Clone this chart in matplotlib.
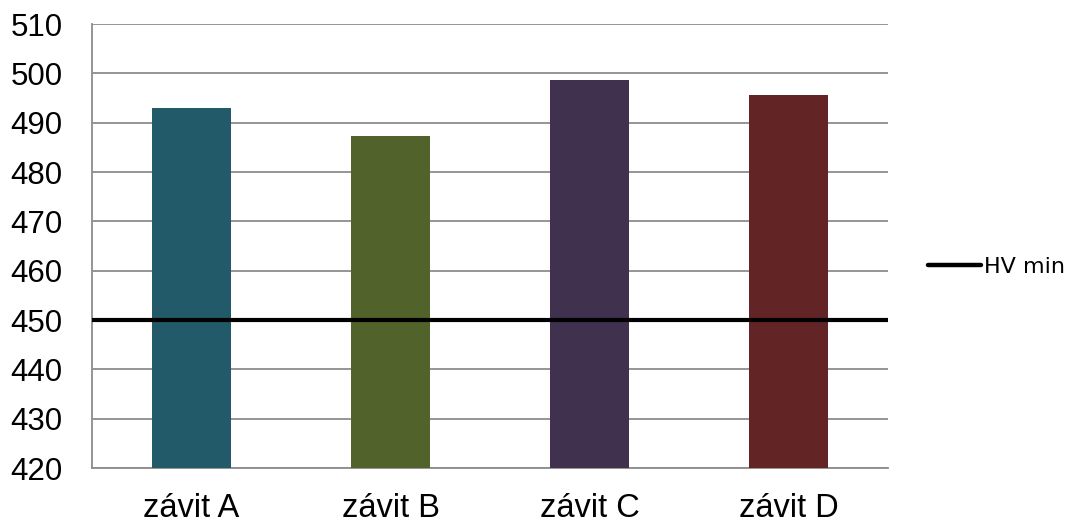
import matplotlib
matplotlib.use("Agg")
import matplotlib.pyplot as plt
from matplotlib.lines import Line2D

plt.rcParams['font.family'] = ['Liberation Sans', 'DejaVu Sans']

# tvrdost podle zavitu
kategorie = ["závit A", "závit B", "závit C", "závit D"]
tvrdost = [492.9, 487.4, 498.6, 495.7]
barvy = ["#235A69", "#51632A", "#40314F", "#632426"]
hv_min = 450
y_ticks = list(range(420, 511, 10))

fig = plt.figure(figsize=(10.73, 5.22), dpi=100)
ax = fig.add_axes([0.0857, 0.1034, 0.742, 0.8506])

x = range(len(kategorie))
ax.bar(x, [v - 420 for v in tvrdost], bottom=420, width=0.4, color=barvy, zorder=3)
ax.axhline(hv_min, color="black", lw=3, zorder=4)

ax.set_xlim(-0.5, len(kategorie) - 0.5)
ax.set_ylim(420, 510)
ax.set_yticks(y_ticks)
ax.set_xticks(list(x))
ax.set_xticklabels(kategorie)
ax.tick_params(axis="y", length=0, labelsize=22.5, pad=21)
ax.tick_params(axis="x", length=0, labelsize=23.5, pad=18)
ax.yaxis.grid(True, color="#8C8C8C", lw=1.3, zorder=0)

for s in ["top", "right"]:
    ax.spines[s].set_visible(False)
for s in ["left", "bottom"]:
    ax.spines[s].set_color("#8C8C8C")
    ax.spines[s].set_linewidth(1.3)

handle = Line2D([], [], color="black", lw=3.2, solid_capstyle="round")
fig.legend([handle], ["HV min"], loc="center left", bbox_to_anchor=(0.8545, 0.488),
           frameon=False, prop={"family": "DejaVu Sans", "size": 16},
           handlelength=2.4, handletextpad=0.1, borderpad=0)

fig.savefig("out.png", dpi=100)
